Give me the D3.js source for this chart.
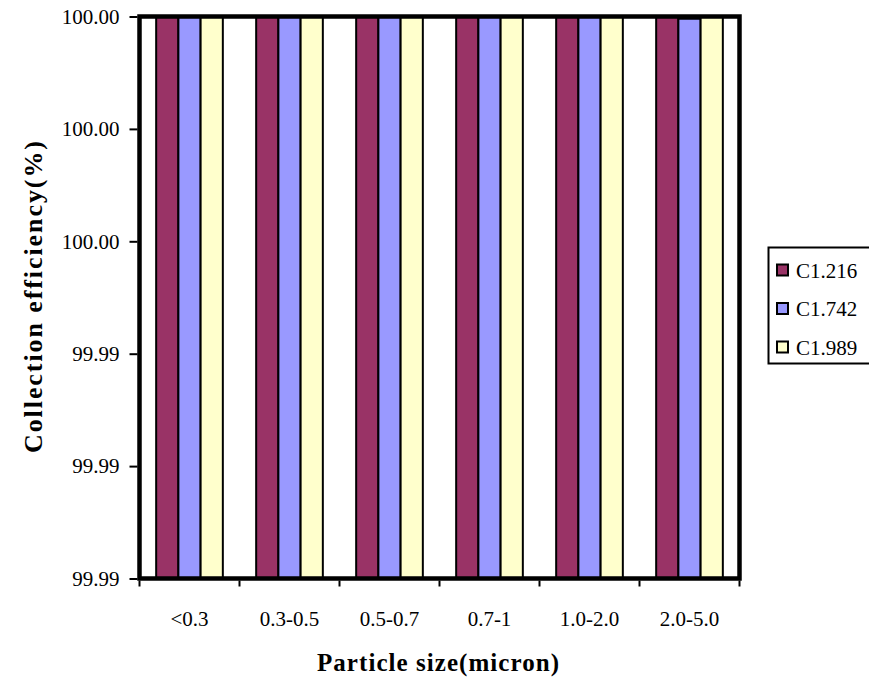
<!DOCTYPE html>
<html>
<head>
<meta charset="utf-8">
<script src="https://cdn.jsdelivr.net/npm/d3@7"></script>
<style>
  html, body { margin: 0; padding: 0; background: #fff; }
  svg text { font-family: "Liberation Serif", "Times New Roman", "Liberation Sans", Arial, sans-serif; fill: #000; }
</style>
</head>
<body>
<svg id="chart" width="869" height="683"></svg>
<script>
// Particle size classes on the x axis
const categories = ["<0.3", "0.3-0.5", "0.5-0.7", "0.7-1", "1.0-2.0", "2.0-5.0"];

// Collection efficiency (%) of each collector configuration
const seriesNames = ["C1.216", "C1.742", "C1.989"];
const c1216 = [100.0, 100.0, 100.0, 100.0, 100.0, 100.0];
const c1742 = [100.0, 100.0, 100.0, 100.0, 100.0, 99.99996];
const c1989 = [100.0, 100.0, 100.0, 100.0, 100.0, 100.0];
const seriesValues = [c1216, c1742, c1989];
const seriesColors = ["#993366", "#9999FF", "#FFFFCC"];

// Value axis: 99.990 .. 100.000, labelled with two decimals
const yTicks = [99.990, 99.992, 99.994, 99.996, 99.998, 100.000];

const svg = d3.select("#chart");
const plot = { left: 139.5, top: 16.5, right: 739.5, bottom: 578.5 };

const x = d3.scaleBand().domain(categories).range([plot.left, plot.right]).padding(0);
// gap width 150 % of a bar: group = 3 bars, gap = 1.5 bars
const bw = x.bandwidth() / 4.5;
const xs = d3.scaleBand().domain(seriesNames)
  .range([bw * 0.75, bw * 3.75]).padding(0);

const y = d3.scaleLinear().domain([99.990, 100.000]).range([plot.bottom, plot.top]);

// bars
const rows = [];
seriesNames.forEach((s, si) => {
  categories.forEach((c, ci) => rows.push({ s, c, v: seriesValues[si][ci], color: seriesColors[si] }));
});

svg.append("g").selectAll("rect").data(rows).join("rect")
  .attr("x", d => x(d.c) + xs(d.s))
  .attr("width", xs.bandwidth())
  .attr("y", d => y(d.v))
  .attr("height", d => y(99.990) - y(d.v))
  .attr("fill", d => d.color)
  .attr("stroke", "#000")
  .attr("stroke-width", 2);

// plot frame
svg.append("rect")
  .attr("x", plot.left).attr("y", plot.top)
  .attr("width", plot.right - plot.left).attr("height", plot.bottom - plot.top)
  .attr("fill", "none").attr("stroke", "#000").attr("stroke-width", 4.5);

// y axis
const yAxis = d3.axisLeft(y).tickValues(yTicks).tickSize(8).tickPadding(10)
  .tickFormat(d3.format(".2f"));
const gy = svg.append("g").attr("transform", `translate(${plot.left - 2},0)`).call(yAxis);
gy.attr("font-family", null).attr("font-size", null);
gy.select(".domain").remove();
gy.selectAll(".tick line").attr("stroke", "#000").attr("stroke-width", 2);
gy.selectAll(".tick text").style("font-size", "21px");

// x axis: ticks at category boundaries, labels centred below each category
const bounds = categories.map(c => x(c)).concat([plot.right]);
svg.append("g").selectAll("line").data(bounds).join("line")
  .attr("x1", d => d).attr("x2", d => d)
  .attr("y1", plot.bottom + 2).attr("y2", plot.bottom + 8)
  .attr("stroke", "#000").attr("stroke-width", 2);

svg.append("g").selectAll("text").data(categories).join("text")
  .attr("x", d => x(d) + x.bandwidth() / 2)
  .attr("y", plot.bottom + 47)
  .attr("text-anchor", "middle")
  .style("font-size", "21px")
  .text(d => d);

// axis titles
svg.append("text")
  .attr("x", 438).attr("y", 671)
  .attr("text-anchor", "middle")
  .attr("textLength", 242).attr("lengthAdjust", "spacing")
  .style("font-size", "25px").style("font-weight", "bold")
  .text("Particle size(micron)");

svg.append("text")
  .attr("transform", "translate(42,297) rotate(-90)")
  .attr("text-anchor", "middle")
  .attr("textLength", 312).attr("lengthAdjust", "spacing")
  .style("font-size", "26px").style("font-weight", "bold")
  .text("Collection efficiency(%)");

// legend
const lg = svg.append("g");
lg.append("rect")
  .attr("x", 768.5).attr("y", 247.5).attr("width", 110).attr("height", 116)
  .attr("fill", "#fff").attr("stroke", "#000").attr("stroke-width", 2);
const items = lg.selectAll("g.item").data(seriesNames).join("g")
  .attr("transform", (d, i) => `translate(0,${270 + i * 38.5})`);
items.append("rect")
  .attr("x", 777).attr("y", -5.5).attr("width", 11).attr("height", 11)
  .attr("fill", (d, i) => seriesColors[i]).attr("stroke", "#000").attr("stroke-width", 2);
items.append("text")
  .attr("x", 796).attr("y", 7.5)
  .style("font-size", "21px")
  .text(d => d);
</script>
</body>
</html>
